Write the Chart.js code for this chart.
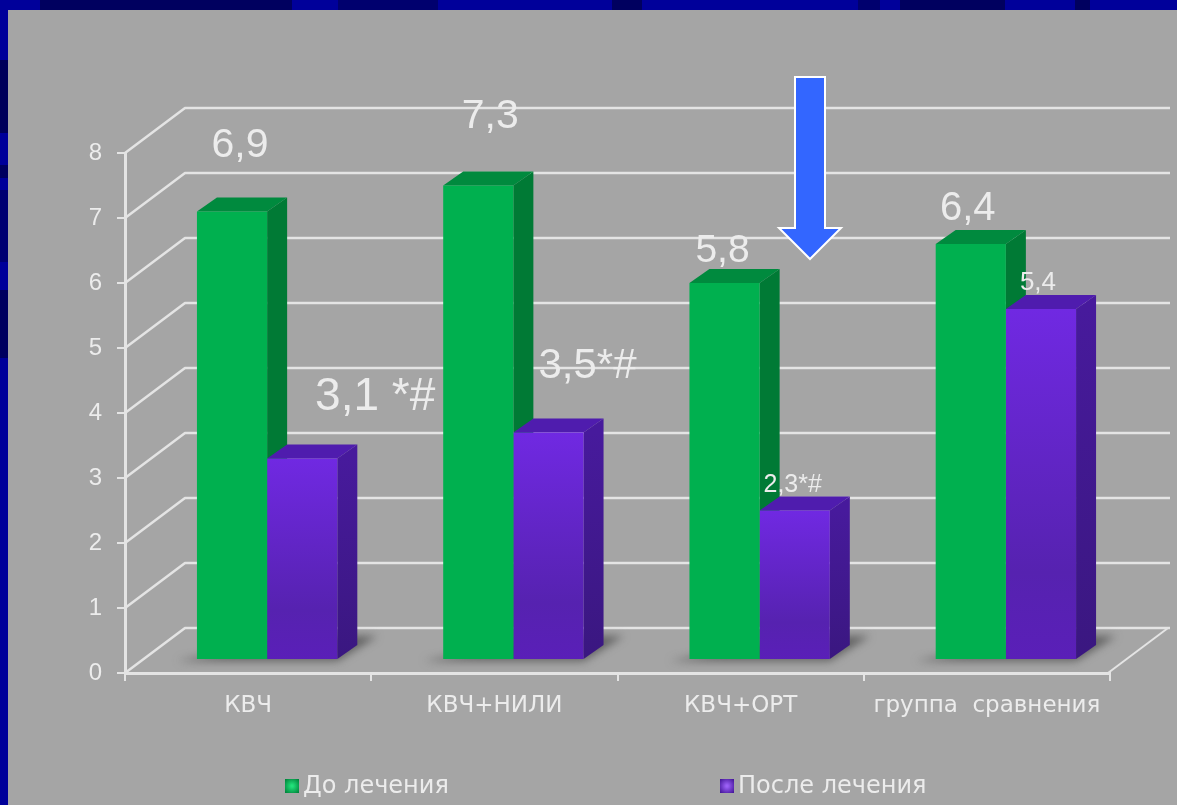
<!DOCTYPE html>
<html>
<head>
<meta charset="utf-8">
<script src="https://cdn.jsdelivr.net/npm/chart.js@4"></script>
<style>
  html, body { margin: 0; padding: 0; background: #00009a; overflow: hidden; }
  #stage { position: relative; width: 1177px; height: 805px; overflow: hidden; }
  #topStrip, #leftStrip { position: absolute; left: 0; top: 0; }
  #topStrip {
    width: 1177px; height: 10px;
    background: linear-gradient(to right,
      #00009a 0 40px, #00005f 40px 292px, #00009a 292px 338px, #00006e 338px 438px,
      #00009a 438px 612px, #00005f 612px 642px, #00009a 642px 858px, #00006e 858px 880px,
      #00009a 880px 900px, #00005f 900px 1005px, #00009a 1005px 1075px, #00005f 1075px 1090px,
      #00009a 1090px 1177px);
  }
  #leftStrip {
    width: 8px; height: 805px;
    background: linear-gradient(to bottom,
      #00009a 0 60px, #00005a 60px 133px, #00009a 133px 165px, #00005f 165px 178px,
      #00009a 178px 190px, #000072 190px 262px, #00009a 262px 290px, #00005f 290px 358px,
      #00009a 358px 805px);
  }
  #panel { position: absolute; left: 8px; top: 10px; width: 1169px; height: 795px; background: #a5a5a5; }
  #chart { position: absolute; left: 0; top: 0; filter: blur(0.6px); }
</style>
</head>
<body>
<div id="stage">
  <div id="topStrip"></div>
  <div id="leftStrip"></div>
  <div id="panel"></div>
  <canvas id="chart" width="1177" height="805"></canvas>
</div>
<script>
const categories = ['КВЧ', 'КВЧ+НИЛИ', 'КВЧ+ОРТ', 'группа  сравнения'];
const seriesNames = ['До лечения', 'После лечения'];
const beforeValues = [6.9, 7.3, 5.8, 6.4];
const afterValues = [3.1, 3.5, 2.3, 5.4];
const beforeLabels = ['6,9', '7,3', '5,8', '6,4'];
const afterLabels = ['3,1 *#', '3,5*#', '2,3*#', '5,4'];
const yTicks = [0, 1, 2, 3, 4, 5, 6, 7, 8];

// depth of the fake 3d box and of the bars inside it
const wallDx = 60, wallDy = -45;
const barShiftX = 19, barShiftY = -13;
const barDx = 20, barDy = -14;

const gridColor = '#e4e4e4';
const textColor = '#ececec';
const fontName = '"Liberation Sans", Arial, sans-serif';
const wideFont = '"DejaVu Sans", sans-serif';

// offset from the bar top and font size of each value label
const beforeLabelPos = [[8, -66, 41], [12, -69, 41], [-2, -32, 39], [-3, -35, 40]];
const afterLabelPos = [[73, -61, 46], [39, -66, 42], [-2, -25, 25], [-3, -26, 26]];

function poly(ctx, pts, fill) {
  ctx.beginPath();
  pts.forEach((p, i) => i ? ctx.lineTo(p[0], p[1]) : ctx.moveTo(p[0], p[1]));
  ctx.closePath();
  ctx.fillStyle = fill;
  ctx.fill();
}

function purpleFront(c) {
  const chart = c.chart;
  const y = chart.scales.y;
  if (!y || !c.parsed) return '#6428d0';
  const top = y.getPixelForValue(c.parsed.y), bottom = y.getPixelForValue(0);
  if (!Number.isFinite(top) || !Number.isFinite(bottom)) return '#6428d0';
  const g = chart.ctx.createLinearGradient(0, top, 0, bottom);
  g.addColorStop(0, '#7029e2');
  g.addColorStop(0.75, '#5622b0');
  g.addColorStop(1, '#5a1fb8');
  return g;
}

const box3d = {
  id: 'box3d',
  beforeDatasetsDraw(chart) {
    const ctx = chart.ctx, y = chart.scales.y, area = chart.chartArea;
    ctx.save();
    // gridlines on the side wall, back wall and floor
    ctx.strokeStyle = gridColor;
    ctx.lineWidth = 2.5;
    ctx.lineJoin = 'round';
    yTicks.forEach(t => {
      const py = y.getPixelForValue(t);
      ctx.beginPath();
      ctx.moveTo(area.left, py);
      ctx.lineTo(area.left + wallDx, py + wallDy);
      ctx.lineTo(area.right + wallDx, py + wallDy);
      ctx.stroke();
    });
    ctx.lineWidth = 2;
    ctx.beginPath();
    ctx.moveTo(area.right - 2, area.bottom);
    ctx.lineTo(area.right - 2 + wallDx, area.bottom + wallDy);
    ctx.stroke();

    ctx.translate(barShiftX, barShiftY);
    const green = chart.getDatasetMeta(0).data, violet = chart.getDatasetMeta(1).data;

    // floor shadow of every group
    green.forEach((b, i) => {
      const l = b.x - b.width / 2, r = violet[i].x + violet[i].width / 2, base = b.base;
      ctx.save();
      ctx.filter = 'blur(4px)';
      poly(ctx, [[l - 20, base + 2], [r, base + 2], [r + 40, base - 23], [r - 20, base - 23]], 'rgba(80,80,80,0.8)');
      ctx.restore();
    });

    // top and side faces
    [[green, '#008a3e', '#007a35'], [violet, '#4f1cae', null]].forEach(([bars, topC, sideC]) => {
      bars.forEach(b => {
        const l = b.x - b.width / 2, r = b.x + b.width / 2;
        let side = sideC;
        if (!side) {
          side = ctx.createLinearGradient(0, b.y, 0, b.base);
          side.addColorStop(0, '#471a9c');
          side.addColorStop(1, '#3a1780');
        }
        poly(ctx, [[r, b.y], [r + barDx, b.y + barDy], [r + barDx, b.base + barDy], [r, b.base]], side);
        poly(ctx, [[l, b.y], [l + barDx, b.y + barDy], [r + barDx, b.y + barDy], [r, b.y]], topC);
      });
    });
    ctx.restore();

    // front faces go through the normal bar drawing, moved into the box
    ctx.save();
    ctx.translate(barShiftX, barShiftY);
  },
  afterDatasetsDraw(chart) {
    const ctx = chart.ctx;
    ctx.restore();
    ctx.save();
    ctx.translate(barShiftX, barShiftY);
    ctx.textAlign = 'center';
    ctx.textBaseline = 'middle';
    ctx.fillStyle = textColor;
    [[0, beforeLabels, beforeLabelPos], [1, afterLabels, afterLabelPos]].forEach(([ds, labels, pos]) => {
      chart.getDatasetMeta(ds).data.forEach((b, i) => {
        ctx.font = pos[i][2] + 'px ' + fontName;
        ctx.fillText(labels[i], b.x + pos[i][0], b.y + pos[i][1]);
      });
    });
    ctx.restore();
    drawArrow(ctx);
    drawLegend(chart);
  }
};

function drawArrow(ctx) {
  ctx.save();
  ctx.beginPath();
  [[795, 77], [825, 77], [825, 228], [841, 228], [810, 259], [779, 228], [795, 228]].forEach((p, i) => {
    i ? ctx.lineTo(p[0], p[1]) : ctx.moveTo(p[0], p[1]);
  });
  ctx.closePath();
  ctx.fillStyle = '#3366ff';
  ctx.fill();
  ctx.strokeStyle = '#ffffff';
  ctx.lineWidth = 2;
  ctx.stroke();
  ctx.restore();
}

function drawLegend(chart) {
  const ctx = chart.ctx;
  const items = [
    { x: 285, c1: '#22e07a', c2: '#00863c' },
    { x: 720, c1: '#9a60f5', c2: '#47189c' }
  ];
  ctx.save();
  ctx.font = '24px ' + wideFont;
  ctx.textBaseline = 'middle';
  ctx.textAlign = 'left';
  items.forEach((it, i) => {
    const g = ctx.createRadialGradient(it.x + 7, 786, 1, it.x + 7, 786, 9);
    g.addColorStop(0, it.c1);
    g.addColorStop(1, it.c2);
    ctx.fillStyle = g;
    ctx.fillRect(it.x, 779, 14, 14);
    ctx.fillStyle = textColor;
    ctx.fillText(chart.data.datasets[i].label, it.x + 18, 787);
  });
  ctx.restore();
}

new Chart(document.getElementById('chart'), {
  type: 'bar',
  data: {
    labels: categories,
    datasets: [
      { label: seriesNames[0], data: beforeValues, backgroundColor: '#00b04f' },
      { label: seriesNames[1], data: afterValues, backgroundColor: purpleFront }
    ]
  },
  options: {
    responsive: false,
    animation: false,
    layout: { autoPadding: false, padding: { top: 153, right: 67, bottom: 0, left: 0 } },
    datasets: { bar: { categoryPercentage: 0.57, barPercentage: 1 } },
    scales: {
      x: {
        afterFit(s) { s.height = 132; },
        border: { color: gridColor, width: 3 },
        grid: { display: true, drawOnChartArea: false, drawTicks: true, tickLength: 8, color: gridColor, lineWidth: 2, offset: true },
        ticks: { color: textColor, font: { family: wideFont, size: 23 }, padding: 11, maxRotation: 0, autoSkip: false }
      },
      y: {
        min: 0,
        max: 8,
        afterFit(s) { s.width = 125; },
        afterBuildTicks(s) { s.ticks = yTicks.map(v => ({ value: v })); },
        border: { color: gridColor, width: 3 },
        grid: { display: true, drawOnChartArea: false, drawTicks: true, tickLength: 8, color: gridColor, lineWidth: 2 },
        ticks: { color: textColor, font: { family: fontName, size: 24 }, padding: 15 }
      }
    },
    plugins: {
      legend: { display: false },
      tooltip: { enabled: false }
    }
  },
  plugins: [box3d]
});
</script>
</body>
</html>
